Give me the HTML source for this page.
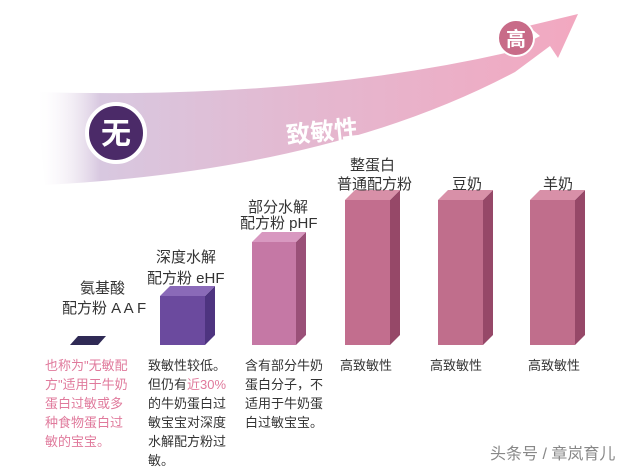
<!DOCTYPE html>
<html><head><meta charset="utf-8"><style>
body{margin:0;background:#fff}
svg text{font-family:"Liberation Sans","Noto Sans CJK SC",sans-serif}
</style></head><body>
<svg width="640" height="470" xmlns="http://www.w3.org/2000/svg">
<defs>
<linearGradient id="band" x1="0" y1="0" x2="1" y2="0">
<stop offset="0" stop-color="#ffffff" stop-opacity="0"/>
<stop offset="0.12" stop-color="#d8c8e0"/>
<stop offset="0.5" stop-color="#e4b8d0"/>
<stop offset="1" stop-color="#f2a8c0"/>
</linearGradient>
</defs>
<rect width="640" height="470" fill="#fff"/>
<path d="M35,92 Q300,100 510,52 L540,36 L528,26 L578,14 L558,58 L550,46 L515,72 Q330,170 45,185 Z" fill="url(#band)"/>
<circle cx="116" cy="133" r="29" fill="#4b2a68" stroke="#fff" stroke-width="4"/>
<text x="116" y="144" font-size="30" font-weight="bold" fill="#fff" text-anchor="middle">无</text>
<circle cx="516" cy="38" r="18" fill="#c86b88" stroke="#fff" stroke-width="2"/>
<text x="516" y="46" font-size="20" font-weight="bold" fill="#fff" text-anchor="middle">高</text>
<text x="322" y="140" font-size="24" font-weight="bold" fill="#fff" text-anchor="middle" transform="rotate(-6 322 130)">致敏性</text>
<polygon points="70,345 78,336 106,336 98,345" fill="#2f2a55"/>
<g>
<rect x="160" y="296" width="45" height="49" fill="#6b4a9e"/>
<polygon points="205,296 215,286 215,335 205,345" fill="#4e3480"/>
<polygon points="160,296 170,286 215,286 205,296" fill="#8a6ab8"/>
</g>
<g>
<rect x="252" y="242" width="44" height="103" fill="#c578a5"/>
<polygon points="296,242 306,232 306,335 296,345" fill="#9a5078"/>
<polygon points="252,242 262,232 306,232 296,242" fill="#d898c0"/>
</g>
<g>
<rect x="345" y="200" width="45" height="145" fill="#c26e8e"/>
<polygon points="390,200 400,190 400,335 390,345" fill="#964868"/>
<polygon points="345,200 355,190 400,190 390,200" fill="#d890a8"/>
</g>
<g>
<rect x="438" y="200" width="45" height="145" fill="#c06e8c"/>
<polygon points="483,200 493,190 493,335 483,345" fill="#964868"/>
<polygon points="438,200 448,190 493,190 483,200" fill="#d890a8"/>
</g>
<g>
<rect x="530" y="200" width="45" height="145" fill="#c06e8c"/>
<polygon points="575,200 585,190 585,335 575,345" fill="#964868"/>
<polygon points="530,200 540,190 585,190 575,200" fill="#d890a8"/>
</g>
<g font-size="15" fill="#333">
<text x="80" y="293">氨基酸</text>
<text x="62" y="313">配方粉 A A F</text>
<text x="156" y="262">深度水解</text>
<text x="147" y="283">配方粉 eHF</text>
<text x="248" y="212">部分水解</text>
<text x="240" y="228">配方粉 pHF</text>
<text x="350" y="170">整蛋白</text>
<text x="337" y="189">普通配方粉</text>
<text x="452" y="189">豆奶</text>
<text x="543" y="189">羊奶</text>
</g>
<g font-size="13" fill="#e07a9c">
<text x="45" y="370">也称为"无敏配</text>
<text x="45" y="389">方"适用于牛奶</text>
<text x="45" y="408">蛋白过敏或多</text>
<text x="45" y="427">种食物蛋白过</text>
<text x="45" y="446">敏的宝宝。</text>
</g>
<g font-size="13" fill="#333">
<text x="148" y="370">致敏性较低。</text>
<text x="148" y="389">但仍有<tspan fill="#e07a9c">近30%</tspan></text>
<text x="148" y="408">的牛奶蛋白过</text>
<text x="148" y="427">敏宝宝对深度</text>
<text x="148" y="446">水解配方粉过</text>
<text x="148" y="465">敏。</text>
<text x="245" y="370">含有部分牛奶</text>
<text x="245" y="389">蛋白分子，不</text>
<text x="245" y="408">适用于牛奶蛋</text>
<text x="245" y="427">白过敏宝宝。</text>
<text x="340" y="370">高致敏性</text>
<text x="430" y="370">高致敏性</text>
<text x="528" y="370">高致敏性</text>
</g>
<text x="490" y="459" font-size="16" fill="#888">头条号 / 章岚育儿</text>
</svg>
</body></html>
